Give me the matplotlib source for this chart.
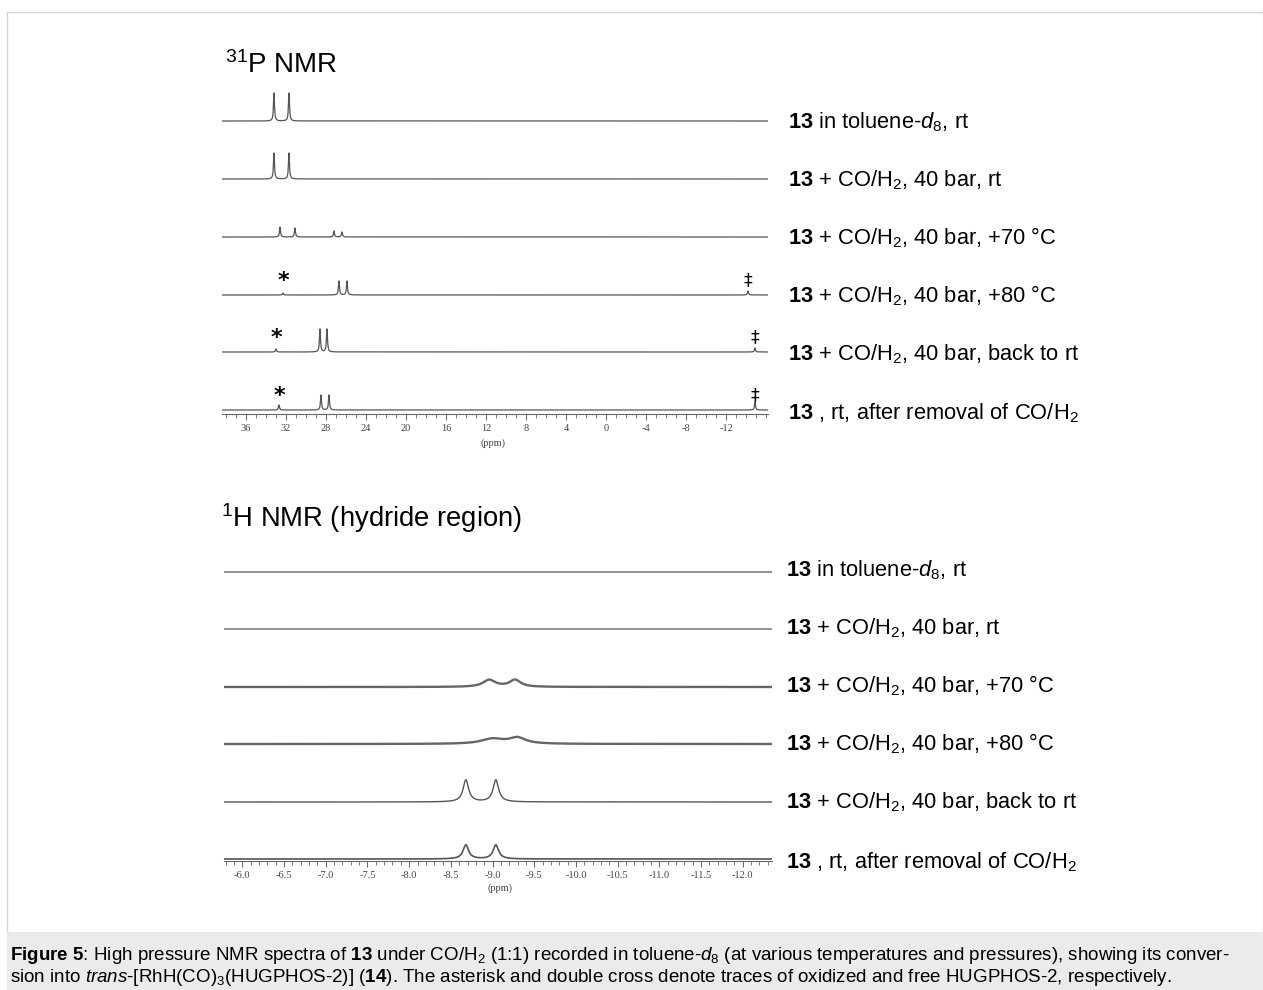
import numpy as np
import matplotlib
matplotlib.use("Agg")
import matplotlib.pyplot as plt
from matplotlib.patches import Rectangle
from matplotlib.ticker import FixedLocator, FixedFormatter

W, H = 1263, 990

plt.rcParams['font.family'] = ['Liberation Sans', 'DejaVu Sans']
plt.rcParams['mathtext.fontset'] = 'custom'
plt.rcParams['mathtext.rm'] = 'Liberation Sans'
plt.rcParams['mathtext.it'] = 'Liberation Sans:italic'
plt.rcParams['mathtext.bf'] = 'Liberation Sans:bold'
plt.rcParams['axes.unicode_minus'] = False

# --- data -----------------------------------------------------------------
trace_labels = [
    r"$\mathbf{13}$ in toluene-$d_8$, rt",
    r"$\mathbf{13}$ + CO/H$_2$, 40 bar, rt",
    r"$\mathbf{13}$ + CO/H$_2$, 40 bar, +70 °C",
    r"$\mathbf{13}$ + CO/H$_2$, 40 bar, +80 °C",
    r"$\mathbf{13}$ + CO/H$_2$, 40 bar, back to rt",
    r"$\mathbf{13}$ , rt, after removal of CO/H$_2$",
]

# 31P: peak positions (ppm) and heights (arbitrary units, px-like)
p_peak_ppm = [
    [33.2, 31.7],
    [33.2, 31.7],
    [32.6, 31.1, 27.2, 26.4],
    [32.3, 26.7, 25.9, -14.2],
    [33.0, 28.6, 27.9, -14.9],
    [32.7, 28.5, 27.7, -14.9],
]
p_peak_height = [
    [28, 28],
    [26, 26],
    [10, 9, 6, 5],
    [2, 14, 14, 4],
    [3, 23, 23, 4],
    [5, 15, 15, 8],
]
p_star_ppm = [None, None, None, 32.3, 33.0, 32.7]
p_dagger_ppm = [None, None, None, -14.2, -14.9, -14.9]
p_tick_labels = [36, 32, 28, 24, 20, 16, 12, 8, 4, 0, -4, -8, -12]

# 1H hydride region: peak positions (ppm), heights, half widths (ppm)
h_peak_ppm = [[], [], [-8.96, -9.27], [-9.0, -9.3], [-8.68, -9.04], [-8.68, -9.04]]
h_peak_height = [[], [], [7, 7], [5, 6], [22, 22], [14, 14]]
h_peak_hwhm = [[], [], [0.09, 0.08], [0.16, 0.12], [0.04, 0.04], [0.04, 0.04]]
h_tick_labels = [-6.0, -6.5, -7.0, -7.5, -8.0, -8.5, -9.0, -9.5, -10.0,
                 -10.5, -11.0, -11.5, -12.0]


def lorentz(x, centers, heights, hwhm):
    y = np.zeros_like(x)
    for c, h, g in zip(centers, heights, hwhm):
        y += h / (1 + ((x - c) / g) ** 2)
    return y


def fx(px):
    return px / W


def fy(py):
    return 1 - py / H


fig = plt.figure(figsize=(W / 100, H / 100), dpi=100)

# frame and caption box
fig.patches.append(Rectangle((fx(7), fy(990)), fx(1256), 978 / H, transform=fig.transFigure,
                             fill=False, edgecolor='#d6d6d6', lw=1))
fig.patches.append(Rectangle((fx(7), fy(990)), fx(1256), 58 / H, transform=fig.transFigure,
                             facecolor='#ebebeb', edgecolor='none'))

trace_color = '#555555'
tick_font = dict(family=['Liberation Serif', 'DejaVu Serif'], size=7.5, color='#444444')

# --- 31P panel --------------------------------------------------------------
p_top, p_bot = 80, 414
axp = fig.add_axes([fx(222), fy(p_bot), fx(546), (p_bot - p_top) / H])
axp.set_xlim(38.4, -16.2)
axp.set_ylim(p_bot, p_top)
p_base = [121, 179, 237, 295, 352, 410]
xp = np.union1d(np.linspace(38.4, -16.2, 8000), np.concatenate(p_peak_ppm))
for i, base in enumerate(p_base):
    yy = lorentz(xp, p_peak_ppm[i], p_peak_height[i], [0.06] * len(p_peak_ppm[i]))
    axp.plot(xp, base - yy, color=trace_color, lw=0.9)
    if p_star_ppm[i] is not None:
        axp.text(p_star_ppm[i], base - 8, '*', ha='center', va='baseline',
                 fontsize=16, fontweight='bold', family='DejaVu Sans', color='black')
    if p_dagger_ppm[i] is not None:
        axp.text(p_dagger_ppm[i], base - 10, '‡', ha='center', va='baseline',
                 fontsize=12.5, family='DejaVu Sans', color='black')

# 1H panel -------------------------------------------------------------------
h_top, h_bot = 540, 861
axh = fig.add_axes([fx(224), fy(h_bot), fx(548), (h_bot - h_top) / H])
axh.set_xlim(-5.78, -12.35)
axh.set_ylim(h_bot, h_top)
h_base = [572, 629, 687, 744, 802, 859]
h_lw = [0.9, 0.9, 1.7, 1.7, 1.0, 1.2]
xh = np.union1d(np.linspace(-5.78, -12.35, 4000), np.concatenate(h_peak_ppm[2:]))
for i, base in enumerate(h_base):
    yy = lorentz(xh, h_peak_ppm[i], h_peak_height[i], h_peak_hwhm[i])
    axh.plot(xh, base - yy, color=trace_color if h_lw[i] < 1.5 else '#666666', lw=h_lw[i])

# axis rulers
for ax, ticks, minor, fmt in [
    (axp, p_tick_labels, np.arange(38, -17, -1), '{:d}'),
    (axh, h_tick_labels, np.arange(-5.8, -12.36, -0.1), '{:.1f}'),
]:
    for s in ['top', 'left', 'right']:
        ax.spines[s].set_visible(False)
    ax.spines['bottom'].set_color('#666666')
    ax.spines['bottom'].set_linewidth(0.8)
    ax.set_yticks([])
    ax.xaxis.set_major_locator(FixedLocator(ticks))
    ax.xaxis.set_major_formatter(FixedFormatter([fmt.format(t) for t in ticks]))
    ax.xaxis.set_minor_locator(FixedLocator(minor))
    ax.tick_params(axis='x', which='major', length=4, width=0.7, color='#666666', pad=3)
    ax.tick_params(axis='x', which='minor', length=3, width=0.6, color='#666666')
    for lab in ax.get_xticklabels():
        lab.set_fontfamily(tick_font['family'])
        lab.set_fontsize(tick_font['size'])
        lab.set_color(tick_font['color'])
    ax.patch.set_alpha(0)

fig.text(fx(493), fy(443), '(ppm)', ha='center', va='center', **tick_font)
fig.text(fx(500), fy(888), '(ppm)', ha='center', va='center', **tick_font)

# titles
fig.text(fx(225), fy(73), r"$^{31}$P NMR", fontsize=20, va='baseline', color='black')
fig.text(fx(221), fy(527), r"$^{1}$H NMR (hydride region)", fontsize=19.7, va='baseline',
         color='black')

# trace labels
for lab, yb in zip(trace_labels, [128, 186, 244, 302, 360, 419]):
    fig.text(fx(788), fy(yb), lab, fontsize=15.75, va='baseline', color='black')
for lab, yb in zip(trace_labels, [576, 634, 692, 750, 808, 868]):
    fig.text(fx(786), fy(yb), lab, fontsize=15.75, va='baseline', color='black')

# caption
cap1 = (r"$\mathbf{Figure\ 5}$: High pressure NMR spectra of $\mathbf{13}$ under CO/H$_2$ (1:1) "
        r"recorded in toluene-$d_8$ (at various temperatures and pressures), showing its conver-")
cap2 = (r"sion into $\mathit{trans}$-[RhH(CO)$_3$(HUGPHOS-2)] ($\mathbf{14}$). The asterisk and "
        r"double cross denote traces of oxidized and free HUGPHOS-2, respectively.")
fig.text(fx(10), fy(960), cap1, fontsize=13.5, va='baseline', color='black')
fig.text(fx(10), fy(982), cap2, fontsize=13.5, va='baseline', color='black')

fig.savefig('out.png', dpi=100)
